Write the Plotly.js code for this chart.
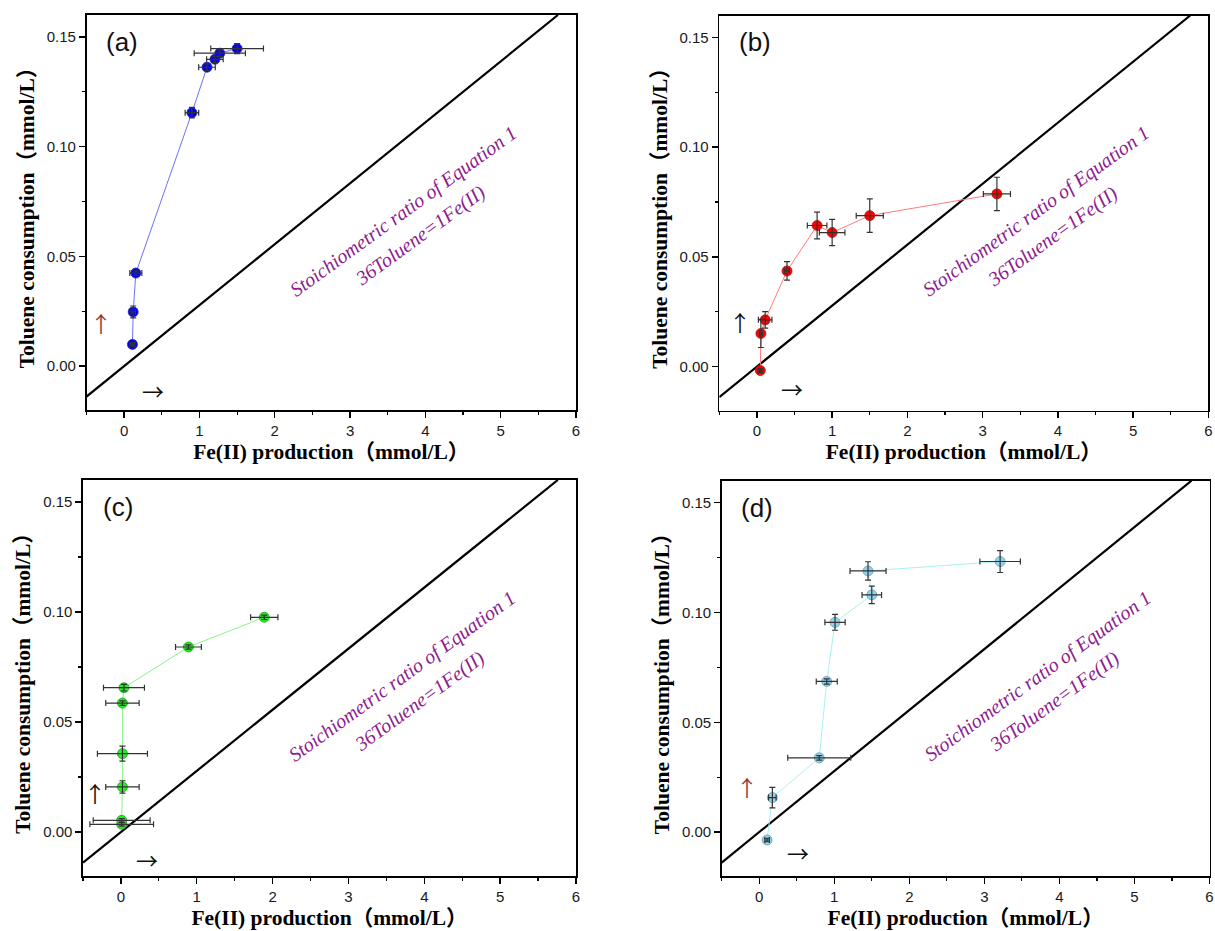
<!DOCTYPE html>
<html>
<head>
<meta charset="utf-8">
<script src="https://cdn.plot.ly/plotly-3.0.1.min.js"></script>
<style>html,body{margin:0;padding:0;background:#fff;}#chart{width:1215px;height:931px;}</style>
</head>
<body>
<div id="chart"></div>
<script>
// ---- data ----
const panelLabels = ["(a)", "(b)", "(c)", "(d)"];
const xTitle = "Fe(II) production（mmol/L）";
const yTitle = "Toluene consumption（mmol/L）";
const ratioLine1 = "Stoichiometric ratio of Equation 1";
const ratioLine2 = "36Toluene=1Fe(II)";
const tolPerFe = 1 / 36;   // 36 Toluene = 1 Fe(II)
const xTickVals = [0, 1, 2, 3, 4, 5, 6];
const yTickVals = [0, 0.05, 0.10, 0.15];

const feA = [0.11, 0.12, 0.155, 0.90, 1.10, 1.205, 1.27, 1.50];
const tolA = [0.0099, 0.0247, 0.0424, 0.1155, 0.1362, 0.1398, 0.1426, 0.1447];
const feErrA = [0.03, 0.03, 0.08, 0.09, 0.11, 0.11, 0.34, 0.35];
const tolErrA = [0.0008, 0.0027, 0.001, 0.0024, 0.0015, 0.0015, 0.0015, 0.0023];

const feB = [0.045, 0.053, 0.11, 0.40, 0.80, 1.00, 1.50, 3.19];
const tolB = [-0.0018, 0.0151, 0.0213, 0.0436, 0.0643, 0.0611, 0.0688, 0.0787];
const feErrB = [0.02, 0.02, 0.09, 0.03, 0.13, 0.17, 0.18, 0.18];
const tolErrB = [0.0008, 0.0064, 0.0038, 0.0042, 0.0061, 0.006, 0.0076, 0.0076];

const feC = [0.01, 0.01, 0.02, 0.02, 0.02, 0.04, 0.89, 1.89];
const tolC = [0.0035, 0.0053, 0.0205, 0.0356, 0.0586, 0.0656, 0.0841, 0.0976];
const feErrC = [0.42, 0.375, 0.22, 0.33, 0.22, 0.27, 0.17, 0.18];
const tolErrC = [0.0008, 0.0008, 0.0028, 0.0034, 0.001, 0.0015, 0.001, 0.001];

const feD = [0.105, 0.175, 0.80, 0.90, 1.01, 1.50, 1.45, 3.21];
const tolD = [-0.0036, 0.0157, 0.0338, 0.0686, 0.0955, 0.108, 0.1189, 0.1232];
const feErrD = [0.03, 0.05, 0.42, 0.14, 0.135, 0.13, 0.24, 0.27];
const tolErrD = [0.0008, 0.0047, 0.001, 0.0012, 0.0036, 0.004, 0.0042, 0.005];

// ---- styles ----
const xRange = [-0.5, 6];
const yRange = [-0.02, 0.16];
const panels = [
  {fe: feA, tol: tolA, fex: feErrA, tolx: tolErrA, fill: "#0000ff", edge: "#2424b8", line: "#6f6fff", up: "#9a3b3b",
   dx: [86.5, 576], dy: [15, 410]},
  {fe: feB, tol: tolB, fex: feErrB, tolx: tolErrB, fill: "#ff0000", edge: "#a81818", line: "#ff7c7c", up: "#111111",
   dx: [719.3, 1208.3], dy: [15.5, 410.5]},
  {fe: feC, tol: tolC, fex: feErrC, tolx: tolErrC, fill: "#22f022", edge: "#259a25", line: "#8af58a", up: "#111111",
   dx: [83, 576], dy: [480, 876]},
  {fe: feD, tol: tolD, fex: feErrD, tolx: tolErrD, fill: "#8fd3ec", edge: "#6a9ab2", line: "#a8f2f2", up: "#9a3b3b",
   dx: [721.7, 1209.5], dy: [480.7, 876]}
];
const W = 1215, H = 931;

const traces = [];
const layout = {
  width: W, height: H,
  margin: {l: 0, r: 0, t: 0, b: 0},
  paper_bgcolor: "#ffffff", plot_bgcolor: "#ffffff",
  showlegend: false,
  annotations: []
};

panels.forEach((p, i) => {
  const n = i === 0 ? "" : String(i + 1);
  const xa = "x" + n, ya = "y" + n;
  // stoichiometric line, drawn across the axis window
  const lx = [xRange[0], yRange[1] / tolPerFe];
  traces.push({
    x: lx, y: lx.map(v => v * tolPerFe), xaxis: xa, yaxis: ya,
    mode: "lines", line: {color: "#000000", width: 2.2}, hoverinfo: "skip"
  });
  // data line + markers
  traces.push({
    x: p.fe, y: p.tol, xaxis: xa, yaxis: ya, mode: "lines+markers",
    line: {color: p.line, width: 1},
    marker: {size: 10, color: p.fill, line: {color: p.edge, width: 0.8}}
  });
  // error bars drawn on top of markers
  traces.push({
    x: p.fe, y: p.tol, xaxis: xa, yaxis: ya, mode: "markers",
    marker: {size: 10, opacity: 0},
    error_x: {type: "data", array: p.fex, visible: true, color: "#333333", thickness: 1.2, width: 3},
    error_y: {type: "data", array: p.tolx, visible: true, color: "#333333", thickness: 1.2, width: 3},
    hoverinfo: "skip"
  });

  const axCommon = {
    showline: true, mirror: true, linecolor: "#000000", linewidth: 1.6,
    ticks: "outside", ticklen: 6, tickwidth: 1.4, tickcolor: "#000000",
    showgrid: false, zeroline: false,
    tickfont: {family: "Liberation Sans, Arial, sans-serif", size: 15, color: "#1a1a1a"},
    title: {font: {family: "Liberation Serif, 'Times New Roman', 'Noto Sans CJK SC', serif", size: 21.5, color: "#000000", weight: "bold"}}
  };
  layout["xaxis" + n] = Object.assign({}, axCommon, {
    domain: [p.dx[0] / W, p.dx[1] / W], anchor: ya, range: xRange,
    tickvals: xTickVals, ticktext: xTickVals.map(String),
    minor: {dtick: 0.5, tick0: 0, ticks: "outside", ticklen: 3, tickwidth: 1.2, tickcolor: "#000000", showgrid: false},
    title: Object.assign({}, axCommon.title, {text: xTitle, standoff: 6})
  });
  layout["yaxis" + n] = Object.assign({}, axCommon, {
    domain: [1 - p.dy[1] / H, 1 - p.dy[0] / H], anchor: xa, range: yRange,
    tickvals: yTickVals, ticktext: yTickVals.map(v => v.toFixed(2)),
    minor: {dtick: 0.025, tick0: 0, ticks: "outside", ticklen: 3, tickwidth: 1.2, tickcolor: "#000000", showgrid: false},
    title: Object.assign({}, axCommon.title, {text: yTitle, standoff: 6})
  });

  // panel label
  layout.annotations.push({
    xref: xa + " domain", yref: ya + " domain", x: 0.072, y: 0.932,
    text: panelLabels[i], showarrow: false, xanchor: "center", yanchor: "middle",
    font: {family: "Liberation Sans, Arial, sans-serif", size: 26, color: "#111111"}
  });
  // stoichiometric ratio text (two lines)
  [[ratioLine1, -8.4, 12.4], [ratioLine2, 8.4, -12.4]].forEach(([t, sx, sy]) => {
    layout.annotations.push({
      xref: xa, yref: ya, x: 3.82, y: 0.065, xshift: sx, yshift: sy,
      text: "<i>" + t + "</i>", showarrow: false, textangle: -36,
      xanchor: "center", yanchor: "middle",
      font: {family: "Liberation Serif, 'Times New Roman', serif", size: 20, color: "#8e1a8e"}
    });
  });
  // direction arrows
  const upPos = [[-0.31, 0.020], [-0.22, 0.0207], [-0.34, 0.018], [-0.16, 0.021]][i];
  const rightPos = [[0.38, -0.011], [0.46, -0.0099], [0.34, -0.0124], [0.51, -0.009]][i];
  layout.annotations.push({
    xref: xa, yref: ya, x: upPos[0], y: upPos[1], text: "↑", showarrow: false,
    xanchor: "center", yanchor: "middle",
    font: {family: "'Noto Sans CJK SC', serif", size: 22, color: p.up}
  });
  layout.annotations.push({
    xref: xa, yref: ya, x: rightPos[0], y: rightPos[1], text: "→", showarrow: false,
    xanchor: "center", yanchor: "middle",
    font: {family: "'Noto Sans CJK SC', serif", size: 22, color: "#111111"}
  });
});

Plotly.newPlot("chart", traces, layout, {staticPlot: true, displayModeBar: false});
</script>
</body>
</html>
